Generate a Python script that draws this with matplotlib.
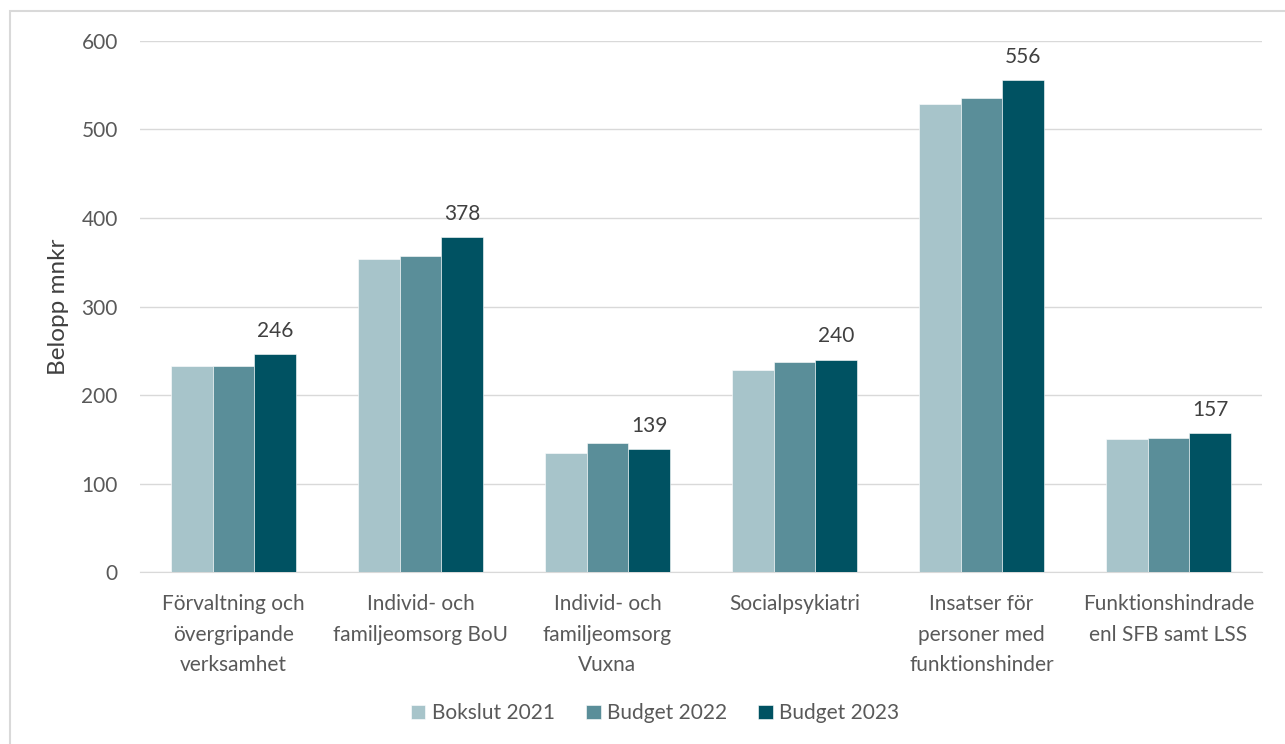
import numpy as np
import matplotlib.pyplot as plt
from matplotlib.patches import Rectangle

categories = ['Förvaltning och\növergripande\nverksamhet',
              'Individ- och\nfamiljeomsorg BoU',
              'Individ- och\nfamiljeomsorg\nVuxna',
              'Socialpsykiatri',
              'Insatser för\npersoner med\nfunktionshinder',
              'Funktionshindrade\nenl SFB samt LSS']
series_names = ['Bokslut 2021', 'Budget 2022', 'Budget 2023']
bokslut_2021 = [233, 354, 135, 228, 529, 150]
budget_2022 = [233, 357, 146, 237, 535, 151]
budget_2023 = [246, 378, 139, 240, 556, 157]
colors = ['#A7C4CA', '#5A8E99', '#005262']

plt.rcParams['font.family'] = ['Lato', 'DejaVu Sans']
text_col = '#595959'

fig = plt.figure(figsize=(12.85, 7.44), dpi=100)
ax = fig.add_axes([0.109, 0.231, 0.873, 0.714])

# light frame around the chart area
fig.patches.append(Rectangle((10 / 1285, -0.1), 1.2, 1 - 11 / 744 + 0.1,
                             transform=fig.transFigure, fill=False,
                             edgecolor='#D9D9D9', linewidth=1.5))

x = np.arange(len(categories))
w = 0.223
all_series = [bokslut_2021, budget_2022, budget_2023]
for i, vals in enumerate(all_series):
    bars = ax.bar(x + (i - 1) * w, vals, w, color=colors[i], label=series_names[i],
                  edgecolor='white', linewidth=0.4, zorder=3)
    if i == 2:  # only the last series has labels
        for b, v in zip(bars, vals):
            ax.text(b.get_x() + b.get_width() / 2, v + 15, str(v), ha='center',
                    va='bottom', fontsize=15, color='#404040')

ax.set_xlim(-0.5, len(categories) - 0.5)
ax.set_ylim(0, 600)
ax.set_yticks(np.arange(0, 601, 100))
ax.yaxis.grid(True, color='#D9D9D9', linewidth=1, zorder=0)
ax.set_axisbelow(True)
for s in ['top', 'right', 'left']:
    ax.spines[s].set_visible(False)
ax.spines['bottom'].set_color('#D9D9D9')
ax.tick_params(axis='both', length=0, labelsize=15, colors=text_col)
ax.tick_params(axis='y', pad=16)
ax.tick_params(axis='x', pad=16)
ax.set_xticks(x)
ax.set_xticklabels(categories, linespacing=1.65)
ax.set_ylabel('Belopp mnkr', fontsize=17.5, color='#404040')
ax.yaxis.set_label_coords(-0.063, 0.5)

ax.legend(loc='center', bbox_to_anchor=(0.459, -0.2655), ncol=3, frameon=False,
          fontsize=15, handlelength=0.7, handleheight=0.7, handletextpad=0.3,
          columnspacing=1.5, labelcolor=text_col)

fig.savefig('out.png', dpi=100)
